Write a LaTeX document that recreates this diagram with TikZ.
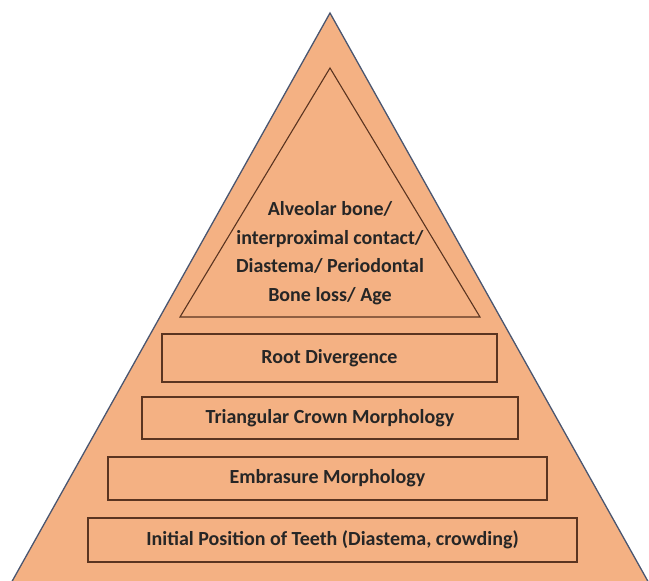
\documentclass[tikz,border=0pt]{standalone}
\usepackage{fontspec}
\setmainfont{Carlito}
\definecolor{pyrfill}{HTML}{F4B183}
\definecolor{outerline}{HTML}{4A5670}
\definecolor{boxline}{HTML}{5A3420}
\definecolor{txt}{HTML}{262626}
\tikzset{
  layer/.style={draw=boxline, line width=1.2pt, inner sep=0pt, text=txt,
    font=\fontsize{20}{24}\selectfont\bfseries, align=center},
  apextext/.style={text=txt, align=center,
    font=\fontsize{20}{28.5}\selectfont\bfseries}
}
\begin{document}
\begin{tikzpicture}[x=1pt,y=-1pt]
\useasboundingbox (0,0) rectangle (649,581);
\begin{scope}
\clip (0,0) rectangle (649,581);
\filldraw[fill=pyrfill, draw=outerline, line width=1.3pt] (330,13) -- (650,585) -- (10,585) -- cycle;
\end{scope}
\draw[draw=boxline, line width=1.1pt] (330,68) -- (480,317) -- (180,317) -- cycle;
\node[apextext] (apex) at (330,253) {Alveolar bone/\\interproximal contact/\\Diastema/ Periodontal\\Bone loss/ Age};
\node[layer, minimum width=335pt, minimum height=48pt] (root) at (329.5,358) {Root Divergence};
\node[layer, minimum width=376pt, minimum height=42pt] (crown) at (330,418) {Triangular Crown Morphology};
\node[layer, minimum width=439pt, minimum height=43pt] (embr) at (327.5,478.5) {Embrasure Morphology};
\node[layer, minimum width=489pt, minimum height=44pt] (init) at (332.5,540) {Initial Position of Teeth (Diastema, crowding)};
\end{tikzpicture}
\end{document}
